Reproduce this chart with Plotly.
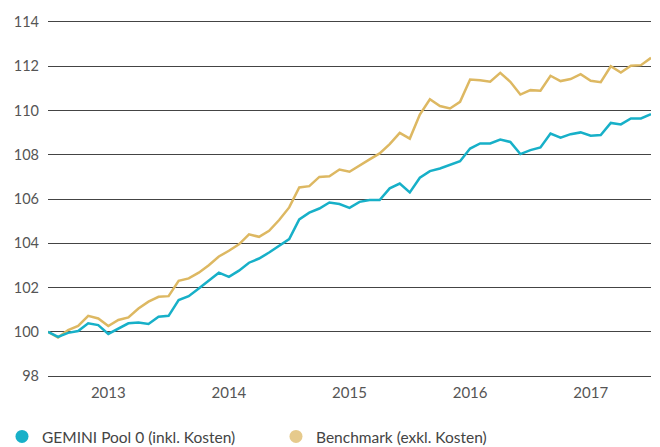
import plotly.graph_objects as go

months = list(range(61))
gemini = [100.0, 99.77, 99.95, 100.03, 100.38, 100.3, 99.9, 100.15, 100.38, 100.42,
          100.35, 100.68, 100.72, 101.43, 101.61, 101.96, 102.3, 102.67, 102.48, 102.76,
          103.12, 103.31, 103.58, 103.89, 104.19, 105.08, 105.38, 105.57, 105.84, 105.77,
          105.6, 105.87, 105.95, 105.95, 106.48, 106.7, 106.3, 106.96, 107.26, 107.38,
          107.53, 107.71, 108.28, 108.51, 108.51, 108.69, 108.58, 108.03, 108.21, 108.33,
          108.96, 108.77, 108.93, 109.01, 108.86, 108.89, 109.44, 109.37, 109.64, 109.64,
          109.83]
benchmark = [100.0, 99.74, 100.08, 100.26, 100.72, 100.6, 100.26, 100.53, 100.65, 101.05,
             101.36, 101.58, 101.61, 102.3, 102.41, 102.67, 103.01, 103.4, 103.66, 103.95,
             104.4, 104.29, 104.56, 105.05, 105.62, 106.52, 106.58, 107.0, 107.03, 107.33,
             107.23, 107.53, 107.79, 108.06, 108.48, 108.99, 108.73, 109.82, 110.51, 110.2,
             110.09, 110.39, 111.4, 111.37, 111.3, 111.7, 111.3, 110.72, 110.92, 110.89,
             111.57, 111.33, 111.42, 111.64, 111.34, 111.28, 112.0, 111.72, 112.02, 112.05,
             112.38]
year_pos = [6, 18, 30, 42, 54]
year_labels = ["2013", "2014", "2015", "2016", "2017"]
y_ticks = [98, 100, 102, 104, 106, 108, 110, 112, 114]

teal = "#17B0C8"
gold = "#DDB862"
gold_legend = "#E6CA8C"
grid = "#444444"

fig = go.Figure()
fig.add_trace(go.Scatter(x=months, y=benchmark, mode="lines",
                         line=dict(color=gold, width=2.5), showlegend=False))
fig.add_trace(go.Scatter(x=months, y=gemini, mode="lines",
                         line=dict(color=teal, width=2.5), showlegend=False))
fig.add_trace(go.Scatter(x=[None], y=[None], mode="markers",
                         marker=dict(color=teal, size=13),
                         name="GEMINI Pool 0 (inkl. Kosten)"))
fig.add_trace(go.Scatter(x=[None], y=[None], mode="markers",
                         marker=dict(color=gold_legend, size=13),
                         name="Benchmark (exkl. Kosten)"))

# page body has an 8px margin, so the figure is sized/offset to compensate
fig.update_layout(
    width=652, height=439,
    margin=dict(l=40, r=9, t=14, b=71, autoexpand=False),
    paper_bgcolor="white", plot_bgcolor="white",
    font=dict(family="Lato", size=15, color="#555555"),
    xaxis=dict(range=[0, 60], tickmode="array", tickvals=year_pos, ticktext=year_labels,
               showgrid=False, zeroline=False, showline=True, linecolor=grid, linewidth=1,
               mirror=True, ticks="", ticklabelstandoff=3, automargin=False,
               tickfont=dict(size=15, color="#555555")),
    yaxis=dict(range=[98, 114], tickmode="array", tickvals=y_ticks,
               showgrid=True, gridcolor=grid, gridwidth=1, zeroline=False,
               showline=False, ticks="", ticklabelstandoff=8, automargin=False,
               tickfont=dict(size=14.5, color="#555555")),
    legend=dict(orientation="h", x=-0.0763, xanchor="left", y=-0.172, yanchor="middle",
                entrywidth=229, entrywidthmode="pixels",
                font=dict(size=15.5, color="#444444"), itemwidth=30),
)
fig.write_html("out.html")
